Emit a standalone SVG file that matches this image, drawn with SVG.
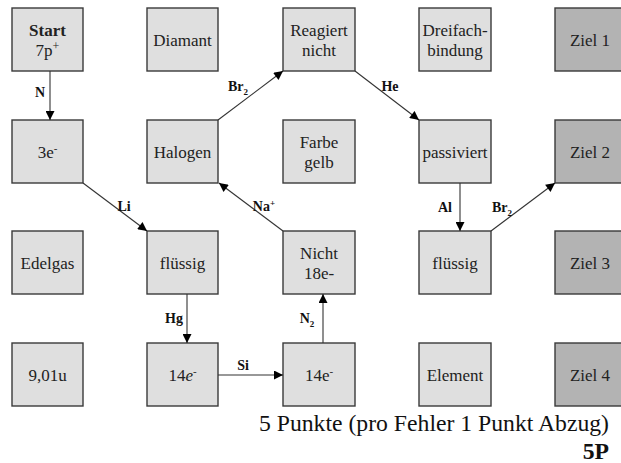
<svg xmlns="http://www.w3.org/2000/svg" width="621" height="463" viewBox="0 0 621 463">
<style>
.box{fill:#dfdfdf;stroke:#3a3a3a;stroke-width:1.4}
.goal{fill:#b3b3b3;stroke:#3a3a3a;stroke-width:1.4}
text{font-family:'Liberation Serif','DejaVu Serif','Times New Roman',serif}
.t{font-size:17px;fill:#222;text-anchor:middle}
.b{font-weight:bold}
.lbl{font-size:14px;font-weight:bold;fill:#111;text-anchor:middle}
.ln{stroke:#333;stroke-width:1.1;fill:none;marker-end:url(#ah)}
.foot{font-size:23.7px;fill:#111;text-anchor:end}
</style>
<defs>
<marker id="ah" viewBox="0 0 10 10" refX="10" refY="5" markerWidth="11" markerHeight="9" markerUnits="userSpaceOnUse" orient="auto">
<path d="M0,0 L10,5 L0,10 z" fill="#000"/>
</marker>
</defs>

<g id="n-start"><rect class="box" x="12" y="8" width="71" height="63"/><text class="t b" x="47.5" y="36">Start</text><text class="t" x="47.5" y="56">7p<tspan dy="-6" font-size="12">+</tspan></text></g>
<g id="n-diamant"><rect class="box" x="147" y="8" width="71" height="63"/><text class="t" x="182.5" y="46">Diamant</text></g>
<g id="n-reagiert"><rect class="box" x="283" y="8" width="72" height="63"/><text class="t" x="319" y="36">Reagiert</text><text class="t" x="319" y="56">nicht</text></g>
<g id="n-dreifach"><rect class="box" x="419" y="8" width="72" height="63"/><text class="t" x="455" y="36">Dreifach-</text><text class="t" x="455" y="56">bindung</text></g>
<g id="n-ziel1"><rect class="goal" x="555" y="8" width="72" height="63"/><text class="t" x="590" y="46">Ziel 1</text></g>

<g id="n-3e"><rect class="box" x="12" y="120" width="71" height="63"/><text class="t" x="47.5" y="158">3e<tspan dy="-6" font-size="11">-</tspan></text></g>
<g id="n-halogen"><rect class="box" x="147" y="120" width="71" height="63"/><text class="t" x="182.5" y="158">Halogen</text></g>
<g id="n-farbe"><rect class="box" x="283" y="120" width="72" height="63"/><text class="t" x="319" y="148">Farbe</text><text class="t" x="319" y="168">gelb</text></g>
<g id="n-passiviert"><rect class="box" x="419" y="120" width="72" height="63"/><text class="t" x="455" y="158">passiviert</text></g>
<g id="n-ziel2"><rect class="goal" x="555" y="120" width="72" height="63"/><text class="t" x="590" y="158">Ziel 2</text></g>

<g id="n-edelgas"><rect class="box" x="12" y="231" width="71" height="63"/><text class="t" x="47.5" y="269">Edelgas</text></g>
<g id="n-fluessig1"><rect class="box" x="147" y="231" width="71" height="63"/><text class="t" x="182.5" y="269">flüssig</text></g>
<g id="n-nicht18"><rect class="box" x="283" y="231" width="72" height="63"/><text class="t" x="319" y="259">Nicht</text><text class="t" x="319" y="279">18e-</text></g>
<g id="n-fluessig2"><rect class="box" x="419" y="231" width="72" height="63"/><text class="t" x="455" y="269">flüssig</text></g>
<g id="n-ziel3"><rect class="goal" x="555" y="231" width="72" height="63"/><text class="t" x="590" y="269">Ziel 3</text></g>

<g id="n-901u"><rect class="box" x="12" y="343" width="71" height="63"/><text class="t" x="47.5" y="381">9,01u</text></g>
<g id="n-14e-a"><rect class="box" x="147" y="343" width="71" height="63"/><text class="t" x="182.5" y="381">14<tspan font-style="italic">e</tspan><tspan dy="-6" font-size="11">-</tspan></text></g>
<g id="n-14e-b"><rect class="box" x="283" y="343" width="72" height="63"/><text class="t" x="319" y="381">14e<tspan dy="-6" font-size="11">-</tspan></text></g>
<g id="n-element"><rect class="box" x="419" y="343" width="72" height="63"/><text class="t" x="455" y="381">Element</text></g>
<g id="n-ziel4"><rect class="goal" x="555" y="343" width="72" height="63"/><text class="t" x="590" y="381">Ziel 4</text></g>

<g id="connectors">
<line class="ln" x1="50" y1="71" x2="50" y2="120"/>
<line class="ln" x1="83" y1="183" x2="147" y2="231"/>
<line class="ln" x1="187" y1="294" x2="187" y2="343"/>
<line class="ln" x1="218" y1="375" x2="283" y2="375"/>
<line class="ln" x1="323" y1="343" x2="323" y2="294"/>
<line class="ln" x1="283" y1="231" x2="219" y2="183"/>
<line class="ln" x1="218" y1="120" x2="283" y2="71"/>
<line class="ln" x1="355" y1="71" x2="419" y2="120"/>
<line class="ln" x1="460" y1="183" x2="460" y2="231"/>
<line class="ln" x1="491" y1="231" x2="555" y2="183"/>
<text class="lbl" x="40" y="97">N</text>
<text class="lbl" x="124" y="211">Li</text>
<text class="lbl" x="174" y="323">Hg</text>
<text class="lbl" x="243" y="370">Si</text>
<text class="lbl" x="307" y="323">N<tspan dy="4" font-size="9">2</tspan></text>
<text class="lbl" x="264" y="211">Na<tspan dy="-5" font-size="9">+</tspan></text>
<text class="lbl" x="238" y="91">Br<tspan dy="4" font-size="9">2</tspan></text>
<text class="lbl" x="390" y="91">He</text>
<text class="lbl" x="445" y="212">Al</text>
<text class="lbl" x="502" y="212">Br<tspan dy="4" font-size="9">2</tspan></text>
</g>

<text class="foot" x="609" y="431">5 Punkte (pro Fehler 1 Punkt Abzug)</text>
<text class="foot" x="609" y="459" font-weight="bold">5P</text>
</svg>
